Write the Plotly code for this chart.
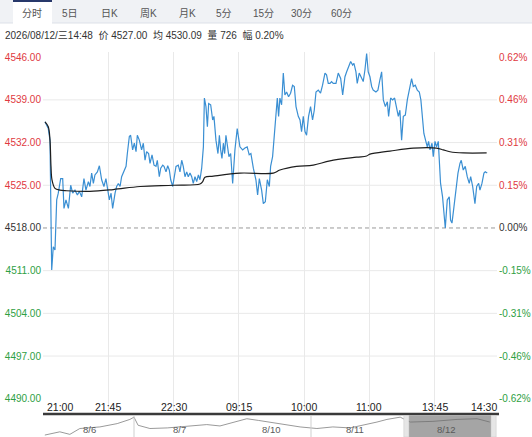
import plotly.graph_objects as go

W, H = 532, 437
FONT = "Liberation Sans, Arial, Noto Sans CJK SC, sans-serif"

# ---------------- data ----------------
# minute slots along the trading axis (main panel)
price_x = [1.4, 3.7, 4.9, 6.1, 7.2, 8.4, 9.6, 10.7, 12.4, 13.8, 14.7, 16.1, 17.8, 19.4, 20.8, 22.4,
           24.1, 25.5, 27.1, 28.7, 30.1, 31.8, 32.9, 34.1, 35.3, 36.4, 38.1, 39.5, 41.1, 42.7, 44.1,
           45.3, 46.5, 47.7, 48.8, 50.5, 51.6, 52.8, 54.0, 55.1, 56.8, 58.2, 59.1, 60.5, 61.4, 62.8,
           64.0, 65.2, 66.1, 67.5, 69.1, 70.3, 71.5, 72.6, 74.0, 75.0, 76.4, 77.8, 79.2, 80.1, 81.5,
           82.5, 83.9, 84.8, 86.2, 87.4, 88.5, 89.5, 90.9, 91.8, 93.2, 94.8, 96.0, 97.2, 98.3, 99.5,
           100.7, 101.8, 103.0, 104.2, 105.3, 106.5, 107.7, 108.9, 110.0, 111.2, 112.4, 113.1, 114.2,
           115.2, 116.1, 117.5, 118.9, 119.8, 121.2, 122.6, 123.6, 124.5, 125.4, 126.4, 127.3, 128.2,
           129.4, 130.3, 131.5, 132.9, 134.5, 136.1, 138.0, 139.9, 141.5, 143.1, 144.5, 145.7, 147.4,
           149.2, 150.4, 151.6, 153.2, 154.4, 155.8, 157.2, 158.6, 159.5, 160.9, 162.1, 163.2, 164.2,
           165.1, 166.0, 167.2, 168.4, 169.5, 170.7, 172.1, 173.5, 174.9, 176.1, 177.3, 178.9, 180.1,
           181.2, 182.4, 183.6, 184.7, 186.1, 187.5, 188.9, 190.1, 191.3, 192.9, 194.5, 195.9, 197.6,
           198.7, 199.9, 201.1, 202.2, 203.4, 205.3, 206.9, 208.6, 210.0, 211.6, 212.8, 214.2, 215.6,
           217.0, 217.9, 219.3, 220.2, 221.6, 223.0, 224.4, 225.6, 226.8, 227.9, 229.1, 230.3, 231.4,
           233.3, 234.7, 236.1, 237.3, 238.5, 239.9, 241.3, 242.2, 243.6, 245.0, 246.4, 247.8, 249.0,
           250.1, 251.3, 252.5, 253.9, 255.3, 256.7, 258.3, 259.5, 260.9, 262.3, 263.7, 264.8, 266.0,
           266.9, 268.3, 269.3, 270.2, 271.2, 272.6, 273.5, 274.7, 275.8, 277.0, 277.7, 278.6, 280.0,
           281.0, 281.9, 283.3, 284.7, 285.6, 286.6, 288.0, 289.4, 290.8, 292.2, 293.1, 294.5, 295.9,
           297.3, 298.7, 299.7, 301.1, 302.7, 303.9, 305.3, 306.2, 307.6, 309.0, 309.9, 311.3]
price_y = [4535.4, 4534.3, 4532.4, 4511.1, 4514.9, 4514.4, 4522.6, 4523.7, 4526.1, 4526.1, 4521.2,
           4522.6, 4521.2, 4525.0, 4523.7, 4524.2, 4523.4, 4524.0, 4523.1, 4526.1, 4524.2, 4525.6,
           4524.8, 4527.0, 4525.3, 4526.7, 4527.2, 4528.2, 4525.9, 4524.8, 4526.1, 4524.2, 4522.6,
           4523.7, 4521.2, 4523.7, 4524.8, 4525.3, 4524.8, 4526.4, 4527.2, 4528.1, 4530.2, 4533.0,
           4533.2, 4530.8, 4531.9, 4530.5, 4533.2, 4532.4, 4530.8, 4531.9, 4529.1, 4530.5, 4530.2,
           4528.6, 4530.0, 4528.3, 4528.1, 4529.1, 4526.4, 4527.8, 4528.3, 4528.1, 4527.2, 4528.2,
           4527.5, 4525.9, 4524.8, 4525.9, 4528.1, 4528.3, 4527.2, 4529.1, 4528.1, 4526.4, 4527.2,
           4526.4, 4527.0, 4526.4, 4525.3, 4526.4, 4525.6, 4526.7, 4525.9, 4527.8, 4531.3, 4539.3,
           4537.9, 4534.6, 4538.4, 4538.2, 4535.7, 4536.3, 4532.4, 4530.2, 4533.2, 4530.8, 4529.4,
           4531.9, 4530.2, 4533.2, 4531.3, 4529.7, 4530.2, 4525.3, 4530.8, 4534.3, 4531.3, 4530.8,
           4531.1, 4531.3, 4530.0, 4530.2, 4527.8, 4525.9, 4523.4, 4526.1, 4524.2, 4522.0, 4522.3,
           4525.9, 4524.8, 4528.1, 4529.7, 4533.0, 4536.8, 4539.3, 4536.3, 4539.3, 4538.2, 4543.4,
           4539.8, 4540.3, 4539.5, 4540.1, 4541.4, 4541.2, 4537.9, 4536.3, 4535.7, 4533.8, 4536.3,
           4533.8, 4533.2, 4536.3, 4537.9, 4535.7, 4537.3, 4540.3, 4540.6, 4540.1, 4541.4, 4543.4,
           4543.1, 4541.7, 4541.7, 4542.0, 4541.7, 4541.7, 4543.4, 4542.5, 4539.8, 4542.8, 4543.6,
           4544.4, 4545.3, 4544.7, 4545.0, 4543.6, 4541.7, 4543.4, 4542.8, 4542.0, 4543.9, 4546.6,
           4543.6, 4542.8, 4541.2, 4540.6, 4540.3, 4540.6, 4542.3, 4543.6, 4539.0, 4537.9, 4538.7,
           4536.3, 4539.3, 4539.0, 4539.3, 4537.9, 4536.3, 4537.3, 4532.4, 4536.3, 4536.5, 4539.0,
           4540.6, 4542.5, 4541.2, 4541.4, 4540.6, 4540.3, 4539.0, 4535.7, 4533.5, 4532.2, 4531.3,
           4532.2, 4530.8, 4531.9, 4529.7, 4532.2, 4531.3, 4532.2, 4529.1, 4525.3, 4523.1, 4520.4,
           4518.0, 4522.6, 4523.1, 4519.3, 4518.8, 4521.5, 4524.8, 4527.0, 4528.6, 4529.1, 4527.5,
           4528.1, 4526.4, 4525.3, 4526.4, 4524.8, 4522.0, 4524.8, 4525.3, 4524.2, 4525.3, 4527.0,
           4527.2, 4527.0]

avg_x = [1.4, 3.7, 4.9, 5.6, 6.3, 8.4, 11.9, 16.6, 32.9, 49.3, 68.0, 91.3, 110.0, 111.9, 113.5,
         119.4, 138.1, 161.4, 166.0, 177.7, 189.4, 201.1, 219.8, 226.8, 229.1, 243.1, 259.5, 275.8,
         280.5, 285.2, 294.5, 310.9]
avg_y = [4535.4, 4534.6, 4532.4, 4528.1, 4525.9, 4524.5, 4524.2, 4524.1, 4524.0, 4524.3, 4524.8,
         4525.0, 4525.2, 4525.6, 4526.3, 4526.5, 4527.0, 4527.0, 4527.5, 4528.1, 4528.3, 4529.0,
         4529.6, 4529.8, 4530.1, 4530.6, 4531.1, 4531.1, 4530.8, 4530.5, 4530.3, 4530.3]

prev_close = 4518.0
price_ticks = [4546, 4539, 4532, 4525, 4518, 4511, 4504, 4497, 4490]
price_labels = ["4546.00", "4539.00", "4532.00", "4525.00", "4518.00", "4511.00", "4504.00", "4497.00", "4490.00"]
pct_labels = ["0.62%", "0.46%", "0.31%", "0.15%", "0.00%", "-0.15%", "-0.31%", "-0.46%", "-0.62%"]
grid_levels = [4539, 4532, 4525, 4511, 4504, 4497]

time_ticks = [45.75, 91.5, 137.25, 183.0, 228.75, 274.5]
time_labels = ["21:00", "21:45", "22:30", "09:15", "10:00", "11:00", "13:45", "14:30"]

# navigator (5-day overview)
nav_x = [0.4, 3.7, 5.9, 8.1, 12.5, 16.3, 19.1, 20.0, 20.9, 23.5, 27.3, 30.1, 33.0, 36.0, 38.9, 41.8,
         44.8, 47.3, 49.9, 53.2, 56.5, 60.2, 63.7, 67.5, 70.3, 73.4, 75.6, 78.5, 80.7, 85.7, 91.0,
         95.4, 98.2]
nav_y = [2.0, 5.3, 2.7, 8.7, 10.3, 13.7, 18.0, 20.3, 12.0, 8.7, 9.3, 10.3, 12.0, 12.7, 11.3, 15.3,
         18.7, 17.0, 15.0, 13.0, 10.3, 8.7, 10.3, 9.3, 12.0, 15.3, 18.0, 20.3, 15.3, 16.0, 18.0,
         18.7, 15.3]
nav_days = ["8/6", "8/7", "8/10", "8/11", "8/12"]
nav_day_pos = [10.3, 29.9, 50.3, 68.6, 88.6]
nav_separators = [20.0, 58.9]
nav_window = [80.4, 98.5]

tabs = ["分时", "5日", "日K", "周K", "月K", "5分", "15分", "30分", "60分"]
tab_centers = [32, 70, 109, 148, 187, 224, 263, 301, 341]
info_text = "2026/08/12/三14:48  价 4527.00  均 4530.09  量 726  幅 0.20%"

# ---------------- helpers ----------------
RED, GREEN, DARK = "#e0393e", "#2ea043", "#333333"
def px_x(p):
    return p / W
def px_y(p):
    return 1 - p / H

X0, X1 = 43, 498
Y_TOP, Y_BOT = 52, 414
XMAX = (X1 - X0) / 1.427
YMIN, YMAX = 4487.5, 4546.85

def col(v):
    return RED if v > prev_close else (GREEN if v < prev_close else DARK)

left_text = [f'<span style="color:{col(v)}">{t}</span>' for v, t in zip(price_ticks, price_labels)]
pct_ticks = [(v - prev_close) / prev_close * 100 for v in price_ticks]
right_text = [f'<span style="color:{col(v)}">{t}</span>' for v, t in zip(price_ticks, pct_labels)]

fig = go.Figure()
fig.add_trace(go.Scatter(x=price_x, y=price_y, mode="lines",
                         line=dict(color="#3a8fd3", width=1.2), hoverinfo="skip"))
fig.add_trace(go.Scatter(x=avg_x, y=avg_y, mode="lines", line_shape="spline",
                         line=dict(color="#1e1e1e", width=1.2), hoverinfo="skip"))
fig.add_trace(go.Scatter(x=[0], y=[0], yaxis="y2", mode="lines",
                         line=dict(color="rgba(0,0,0,0)"), hoverinfo="skip"))
fig.add_trace(go.Scatter(x=nav_x, y=nav_y, xaxis="x2", yaxis="y3", mode="lines",
                         line=dict(color="#9a9a9a", width=1), hoverinfo="skip"))

shapes = []
# tab bar
shapes.append(dict(type="rect", xref="paper", yref="paper", x0=0, x1=1, y0=px_y(23), y1=1,
                   fillcolor="#f0f2f5", line=dict(width=0), layer="below"))
shapes.append(dict(type="line", xref="paper", yref="paper", x0=0, x1=1, y0=px_y(23), y1=px_y(23),
                   line=dict(color="#dde1e8", width=1)))
shapes.append(dict(type="rect", xref="paper", yref="paper", x0=px_x(13), x1=px_x(52), y0=px_y(24), y1=px_y(1),
                   fillcolor="white", line=dict(width=0)))
shapes.append(dict(type="line", xref="paper", yref="paper", x0=px_x(13), x1=px_x(52), y0=px_y(1), y1=px_y(1),
                   line=dict(color="#27386a", width=2)))
# horizontal grid
for v in grid_levels:
    shapes.append(dict(type="line", xref="paper", yref="y", x0=px_x(X0), x1=px_x(497), y0=v, y1=v,
                       line=dict(color="#e9e9e9", width=1), layer="below"))
shapes.append(dict(type="line", xref="paper", yref="y", x0=px_x(X0), x1=px_x(497), y0=prev_close, y1=prev_close,
                   line=dict(color="#9a9a9a", width=1, dash="4px,3px"), layer="below"))
# axis bar
shapes.append(dict(type="line", xref="paper", yref="paper", x0=px_x(X0), x1=px_x(499), y0=px_y(414), y1=px_y(414),
                   line=dict(color="#3a3a3a", width=2.5)))
# navigator
for s in nav_separators:
    shapes.append(dict(type="line", xref="x2", yref="paper", x0=s, x1=s, y0=0, y1=px_y(415.5),
                       line=dict(color="#cfcfcf", width=1)))
shapes.append(dict(type="rect", xref="x2", yref="paper", x0=nav_window[0], x1=nav_window[1], y0=0, y1=px_y(415.5),
                   fillcolor="rgba(105,105,105,0.6)", line=dict(width=0)))
shapes.append(dict(type="rect", xref="x2", yref="paper", x0=nav_window[0] - 1.1, x1=nav_window[0], y0=0, y1=px_y(415.5),
                   fillcolor="#e6e6e6", line=dict(color="#c8c8c8", width=0.5)))
shapes.append(dict(type="rect", xref="x2", yref="paper", x0=nav_window[1], x1=nav_window[1] + 1.1, y0=0, y1=px_y(415.5),
                   fillcolor="#e6e6e6", line=dict(color="#c8c8c8", width=0.5)))

ann = []
for t, c in zip(tabs, tab_centers):
    ann.append(dict(text=t, x=px_x(c), y=px_y(13), xref="paper", yref="paper", showarrow=False,
                    font=dict(size=10, color="#555"), xanchor="center", yanchor="middle"))
ann.append(dict(text=info_text, x=px_x(3), y=px_y(35), xref="paper", yref="paper", showarrow=False,
                font=dict(size=10, color="#333"), xanchor="left", yanchor="middle"))
# time labels
ann.append(dict(text=time_labels[0], x=px_x(45), y=px_y(407), xref="paper", yref="paper", showarrow=False,
                font=dict(size=10.5, color="#222"), xanchor="left", yanchor="middle"))
for t, lbl in zip(time_ticks, time_labels[1:-1]):
    ann.append(dict(text=lbl, x=t, y=px_y(407), xref="x", yref="paper", showarrow=False,
                    font=dict(size=10.5, color="#222"), xanchor="center", yanchor="middle"))
ann.append(dict(text=time_labels[-1], x=px_x(499), y=px_y(407), xref="paper", yref="paper", showarrow=False,
                font=dict(size=10.5, color="#222"), xanchor="right", yanchor="middle"))
for d, p in zip(nav_days, nav_day_pos):
    ann.append(dict(text=d, x=p, y=px_y(429), xref="x2", yref="paper", showarrow=False,
                    font=dict(size=9.5, color="#5a5a5a"), xanchor="center", yanchor="middle"))

fig.update_layout(
    width=W, height=H, margin=dict(l=0, r=0, t=0, b=0, autoexpand=False),
    paper_bgcolor="white", plot_bgcolor="white", showlegend=False,
    font=dict(family=FONT, size=10, color="#333"),
    xaxis=dict(domain=[px_x(X0), px_x(X1)], range=[0, XMAX], tickvals=time_ticks, showticklabels=False,
               showgrid=True, gridcolor="#e9e9e9", gridwidth=1, zeroline=False, showline=False, ticks="",
               automargin=False),
    yaxis=dict(domain=[px_y(Y_BOT), px_y(Y_TOP)], range=[YMIN, YMAX], tickvals=price_ticks, ticktext=left_text,
               showgrid=False, zeroline=False, showline=False, ticks="", ticklabelstandoff=1,
               tickfont=dict(size=10), automargin=False),
    yaxis2=dict(overlaying="y", side="right", anchor="x",
                range=[(YMIN - prev_close) / prev_close * 100, (YMAX - prev_close) / prev_close * 100],
                tickvals=pct_ticks, ticktext=right_text, showgrid=False, zeroline=False, showline=False,
                ticks="", ticklabelstandoff=0, tickfont=dict(size=10), automargin=False),
    xaxis2=dict(domain=[px_x(X0), px_x(X1)], range=[0, 100], anchor="y3", visible=False, automargin=False),
    yaxis3=dict(domain=[0, px_y(415.5)], range=[0, 22], anchor="x2", visible=False, automargin=False),
    shapes=shapes, annotations=ann,
)

fig.write_html("out.html", config={"displayModeBar": False},
               post_script="document.body.style.margin='0';document.documentElement.style.overflow='hidden';")
